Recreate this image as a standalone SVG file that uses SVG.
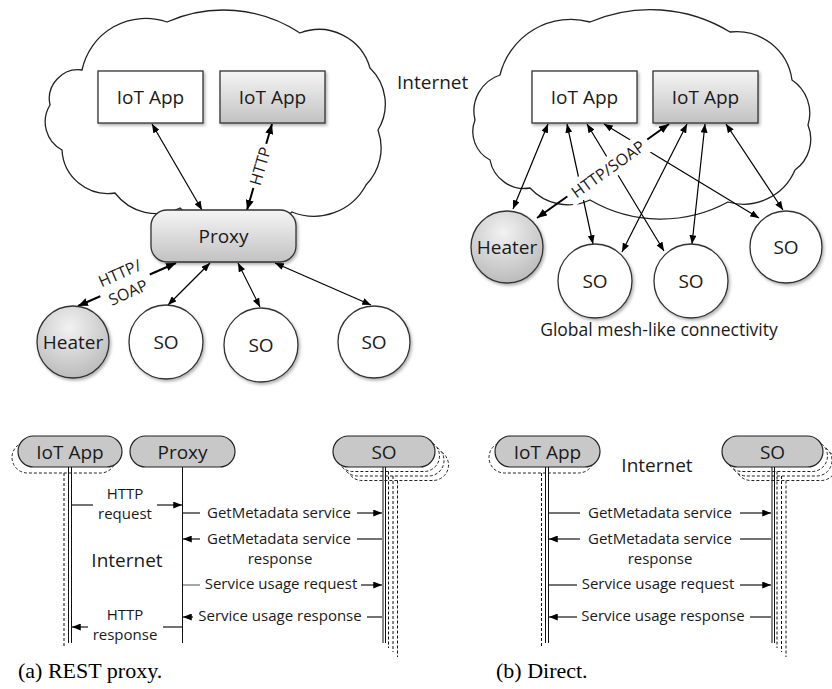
<svg xmlns="http://www.w3.org/2000/svg" width="832" height="689" viewBox="0 0 832 689">
<defs>
<linearGradient id="g1" x1="0" y1="0" x2="0" y2="1"><stop offset="0" stop-color="#f5f5f5"/><stop offset="1" stop-color="#c2c2c2"/></linearGradient>
<radialGradient id="g2" cx="0.45" cy="0.3" r="0.8"><stop offset="0" stop-color="#f2f2f2"/><stop offset="1" stop-color="#b4b4b4"/></radialGradient>
<filter id="sh" x="-20%" y="-20%" width="150%" height="160%"><feDropShadow dx="1.5" dy="2" stdDeviation="1.5" flood-color="#000" flood-opacity="0.3"/></filter>
<marker id="a" viewBox="0 0 10 8" refX="10" refY="4" markerWidth="9" markerHeight="7" markerUnits="userSpaceOnUse" orient="auto-start-reverse"><path d="M0,0 L10,4 L0,8 z" fill="#000"/></marker>
<marker id="ab" viewBox="0 0 10 8" refX="10" refY="4" markerWidth="10" markerHeight="8" markerUnits="userSpaceOnUse" orient="auto-start-reverse"><path d="M0,0 L10,4 L0,8 z" fill="#000"/></marker>
</defs>
<style>
.cl{fill:#fff;stroke:#222;stroke-width:1.3}
.bx{stroke:#333;stroke-width:1.3}
.c{stroke:#000;stroke-width:1.2;fill:none;marker-start:url(#a);marker-end:url(#a)}
.cb{stroke:#000;stroke-width:2;fill:none;marker-start:url(#ab);marker-end:url(#ab)}
.t{font-family:"Open Sans","Noto Sans",sans-serif;font-size:19px;fill:#1a1a1a;text-anchor:middle}
.s{font-size:15px}
.l{font-size:16px}
.g{font-size:17.5px}
.hd{fill:#c8c8c8;stroke:#222;stroke-width:1.2}
.shd{fill:#fff;stroke:#222;stroke-width:1;stroke-dasharray:3 2}
.ll{stroke:#111;stroke-width:1}
.dl{stroke:#111;stroke-width:1;stroke-dasharray:3 2}
.m{stroke:#000;stroke-width:1.1}
.me{marker-end:url(#a)}
.cap{font-family:"Liberation Serif","Times New Roman",serif;font-size:22px;fill:#000}
</style>
<rect width="832" height="689" fill="#fff"/>

<g id="cloud-a">
<path class="cl" d="M82,70 A65,65 0 0 1 167,22 A139,139 0 0 1 300,33 A53,53 0 0 1 370,68 A50,50 0 0 1 378,130 A53,53 0 0 1 366,185 A59,59 0 0 1 292,212 A80,80 0 0 1 180,208 A52,52 0 0 1 115,193 A46,46 0 0 1 62,150 A32,32 0 0 1 50,105 A29,29 0 0 1 82,70 Z"/>
</g>
<g id="cloud-b">
<path class="cl" d="M500,75 A73,73 0 0 1 590,22 A153,153 0 0 1 730,32 A56,56 0 0 1 792,80 A40,40 0 0 1 808,125 A38,38 0 0 1 795,170 A56,56 0 0 1 728,202 A141,141 0 0 1 590,200 A52,52 0 0 1 530,188 A35,35 0 0 1 490,160 A32,32 0 0 1 475,120 A38,38 0 0 1 500,75 Z"/>
</g>
<text class="t" x="397" y="89" style="text-anchor:start">Internet</text>

<g id="connectors">
<line class="c" x1="152" y1="124" x2="202" y2="210"/>
<line class="cb" x1="272" y1="124" x2="247" y2="210"/>
<line class="cb" x1="176" y1="263" x2="78" y2="306"/>
<line class="c" x1="210" y1="263" x2="168" y2="305"/>
<line class="c" x1="238" y1="263" x2="260" y2="307"/>
<line class="c" x1="275" y1="263" x2="371" y2="305"/>

<line class="c" x1="548" y1="124" x2="513" y2="209"/>
<line class="c" x1="567" y1="124" x2="593" y2="244"/>
<line class="c" x1="587" y1="124" x2="664" y2="251"/>
<line class="c" x1="604" y1="124" x2="759" y2="218"/>
<line class="cb" x1="669" y1="124" x2="537" y2="218"/>
<line class="c" x1="687" y1="124" x2="622" y2="252"/>
<line class="c" x1="705" y1="124" x2="692" y2="244"/>
<line class="c" x1="726" y1="124" x2="783" y2="210"/>

<g transform="translate(260,166) rotate(-73.8)"><rect x="-23" y="-10" width="46" height="20" fill="#fff"/><text class="t l" y="6">HTTP</text></g>
<g transform="translate(124,283) rotate(-23.7)"><rect x="-27" y="-25" width="54" height="47" fill="#fff"/><text class="t l" y="-5">HTTP/</text><text class="t l" y="16">SOAP</text></g>
<g transform="translate(608,169) rotate(-35.5)"><rect x="-49" y="-11" width="98" height="22" fill="#fff"/><text class="t l" y="6">HTTP/SOAP</text></g>
</g>

<g id="iot-a1"><rect class="bx" x="98" y="71" width="105" height="52" fill="#fff" filter="url(#sh)"/><text class="t" x="150.5" y="104">IoT App</text></g>
<g id="iot-a2"><rect class="bx" x="220" y="71" width="105" height="52" fill="url(#g1)" filter="url(#sh)"/><text class="t" x="272.5" y="104">IoT App</text></g>
<g id="proxy-a"><rect class="bx" x="151" y="210" width="145" height="52" rx="16" fill="url(#g1)" filter="url(#sh)"/><text class="t" x="223.5" y="243">Proxy</text></g>
<g id="heater-a"><circle class="bx" cx="73" cy="342" r="36" fill="url(#g2)" filter="url(#sh)"/><text class="t" x="73" y="349">Heater</text></g>
<g id="so-a1"><circle class="bx" cx="166" cy="342" r="37" fill="#fff" filter="url(#sh)"/><text class="t" x="166" y="349">SO</text></g>
<g id="so-a2"><circle class="bx" cx="261" cy="345" r="37" fill="#fff" filter="url(#sh)"/><text class="t" x="261" y="352">SO</text></g>
<g id="so-a3"><circle class="bx" cx="374" cy="342" r="36" fill="#fff" filter="url(#sh)"/><text class="t" x="374" y="349">SO</text></g>

<g id="iot-b1"><rect class="bx" x="532" y="71" width="105" height="52" fill="#fff" filter="url(#sh)"/><text class="t" x="584.5" y="104">IoT App</text></g>
<g id="iot-b2"><rect class="bx" x="653" y="71" width="105" height="52" fill="url(#g1)" filter="url(#sh)"/><text class="t" x="705.5" y="104">IoT App</text></g>
<g id="heater-b"><circle class="bx" cx="507" cy="247" r="36" fill="url(#g2)" filter="url(#sh)"/><text class="t" x="507" y="254">Heater</text></g>
<g id="so-b1"><circle class="bx" cx="595" cy="281" r="37" fill="#fff" filter="url(#sh)"/><text class="t" x="595" y="288">SO</text></g>
<g id="so-b2"><circle class="bx" cx="691" cy="281" r="37" fill="#fff" filter="url(#sh)"/><text class="t" x="691" y="288">SO</text></g>
<g id="so-b3"><circle class="bx" cx="786" cy="247" r="36" fill="#fff" filter="url(#sh)"/><text class="t" x="786" y="254">SO</text></g>
<text class="t g" x="659" y="336">Global mesh-like connectivity</text>

<!-- Sequence (a) -->
<g id="seq-a-iot">
<rect class="shd" x="12" y="442" width="104" height="31" rx="15.5"/>
<line class="dl" x1="64" y1="473" x2="64" y2="648"/>
<rect class="hd" x="18" y="436" width="104" height="31" rx="15.5"/>
<line class="ll" x1="68.5" y1="467" x2="68.5" y2="643"/>
<line class="ll" x1="71.5" y1="467" x2="71.5" y2="643"/>
<text class="t" x="70" y="459">IoT App</text>
</g>
<g id="seq-a-proxy">
<rect class="hd" x="130" y="436" width="105" height="31" rx="15.5"/>
<line class="ll" x1="182.5" y1="467" x2="182.5" y2="643"/>
<text class="t" x="182.5" y="459">Proxy</text>
</g>
<g id="seq-a-so">
<rect class="shd" x="346.5" y="449.5" width="102" height="31" rx="15.5"/>
<line class="dl" x1="397.5" y1="480.5" x2="397.5" y2="657"/>
<rect class="shd" x="342" y="445" width="102" height="31" rx="15.5"/>
<line class="dl" x1="393" y1="476" x2="393" y2="652"/>
<rect class="shd" x="337.5" y="440.5" width="102" height="31" rx="15.5"/>
<line class="dl" x1="388.5" y1="471.5" x2="388.5" y2="648"/>
<rect class="hd" x="333" y="436" width="102" height="31" rx="15.5"/>
<line class="ll" x1="383" y1="467" x2="383" y2="643"/>
<line class="ll" x1="385.5" y1="467" x2="385.5" y2="643"/>
<text class="t" x="384" y="459">SO</text>
</g>
<g id="seq-a-msgs">
<line class="m" x1="72" y1="505" x2="93" y2="505"/>
<line class="m me" x1="157" y1="505" x2="182" y2="505"/>
<text class="t s" x="125" y="499">HTTP</text>
<text class="t s" x="125" y="519">request</text>
<line class="m" x1="183" y1="513" x2="200" y2="513"/>
<text class="t s" x="279" y="518">GetMetadata service</text>
<line class="m me" x1="357" y1="513" x2="382" y2="513"/>
<line class="m me" x1="200" y1="539" x2="183" y2="539"/>
<text class="t s" x="279" y="544">GetMetadata service</text>
<line class="m" x1="357" y1="539" x2="382" y2="539"/>
<text class="t s" x="280" y="564">response</text>
<line class="m" x1="183" y1="585" x2="200" y2="585" style="stroke-width:0.7"/>
<text class="t s" x="281" y="589">Service usage request</text>
<line class="m me" x1="361" y1="585" x2="382" y2="585"/>
<line class="m me" x1="193" y1="617" x2="183" y2="617"/>
<text class="t s" x="280" y="621">Service usage response</text>
<line class="m" x1="367" y1="617" x2="382" y2="617"/>
<line class="m me" x1="88" y1="627" x2="72" y2="627"/>
<text class="t s" x="125" y="620">HTTP</text>
<text class="t s" x="125" y="640">response</text>
<line class="m" x1="163" y1="627" x2="182" y2="627"/>
</g>
<text class="t" x="127" y="567">Internet</text>
<text class="cap" x="18" y="678">(a) REST proxy.</text>

<!-- Sequence (b) -->
<g id="seq-b-iot">
<rect class="shd" x="489" y="442" width="105" height="31" rx="15.5"/>
<line class="dl" x1="541.5" y1="473" x2="541.5" y2="648"/>
<rect class="hd" x="495" y="436" width="105" height="31" rx="15.5"/>
<line class="ll" x1="545.5" y1="467" x2="545.5" y2="643"/>
<line class="ll" x1="548.5" y1="467" x2="548.5" y2="643"/>
<text class="t" x="547.5" y="459">IoT App</text>
</g>
<g id="seq-b-so">
<rect class="shd" x="735.5" y="449.5" width="101" height="31" rx="15.5"/>
<line class="dl" x1="786" y1="480.5" x2="786" y2="657"/>
<rect class="shd" x="731" y="445" width="101" height="31" rx="15.5"/>
<line class="dl" x1="781.5" y1="476" x2="781.5" y2="652"/>
<rect class="shd" x="726.5" y="440.5" width="101" height="31" rx="15.5"/>
<line class="dl" x1="777" y1="471.5" x2="777" y2="648"/>
<rect class="hd" x="722" y="436" width="101" height="31" rx="15.5"/>
<line class="ll" x1="772" y1="467" x2="772" y2="643"/>
<line class="ll" x1="774.5" y1="467" x2="774.5" y2="643"/>
<text class="t" x="772.5" y="459">SO</text>
</g>
<g id="seq-b-msgs">
<line class="m" x1="549" y1="513" x2="580" y2="513"/>
<text class="t s" x="660" y="518">GetMetadata service</text>
<line class="m me" x1="740" y1="513" x2="771" y2="513"/>
<line class="m me" x1="580" y1="539" x2="549" y2="539"/>
<text class="t s" x="660" y="544">GetMetadata service</text>
<line class="m" x1="740" y1="539" x2="771" y2="539"/>
<text class="t s" x="660" y="564">response</text>
<line class="m" x1="549" y1="585" x2="577" y2="585"/>
<text class="t s" x="658" y="589">Service usage request</text>
<line class="m me" x1="740" y1="585" x2="771" y2="585"/>
<line class="m me" x1="577" y1="617" x2="549" y2="617"/>
<text class="t s" x="663" y="621">Service usage response</text>
<line class="m" x1="750" y1="617" x2="771" y2="617"/>
</g>
<text class="t" x="657" y="472">Internet</text>
<text class="cap" x="496" y="678">(b) Direct.</text>
</svg>
